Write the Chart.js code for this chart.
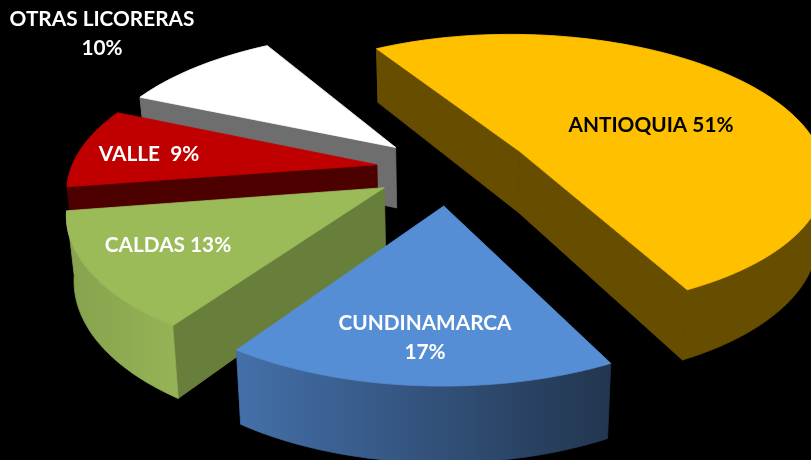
<!DOCTYPE html>
<html><head><meta charset="utf-8">
<style>html,body{margin:0;padding:0;background:#000;overflow:hidden}canvas{display:block}</style>
<script src="https://cdn.jsdelivr.net/npm/chart.js@4"></script>
</head><body><canvas id="c" width="811" height="460"></canvas>
<script>
const categories = ['ANTIOQUIA','CUNDINAMARCA','CALDAS','VALLE','OTRAS LICORERAS'];
const shares = [51,17,13,9,10];
const explode = [82,78,75,73,73];
const topColors = ['#FFC000','#558ED5','#9BBB59','#C00000','#FFFFFF'];
const radialWall = ['#664D00','#3A5F92','#687F3B','#4D0000','#6E6E6E'];
const rimWallFrom = ['#664D00','#4470AA','#86A24E','#4D0000','#6E6E6E'];
const rimWallTo = ['#664D00','#22364F','#95B355','#4D0000','#6E6E6E'];
const labelLines = [['ANTIOQUIA 51%'],['CUNDINAMARCA','17%'],['CALDAS 13%'],['VALLE  9%'],['OTRAS LICORERAS','10%']];
const labelColors = ['#000','#fff','#fff','#fff','#fff'];
const labelAnchors = [[651,125],[425,323],[168,245],[149,154],[102,19]];
const view = {ox:449, oy:169, tilt:0.457, focal:2000, radius:306, depth:62, narrow:0.98};

function project(x,y,z){
  const s = 1/(1-y/view.focal);
  let sx = view.ox + x*s, sy = view.oy + view.tilt*y*s;
  if(z){ sx = view.ox + (sx-view.ox)*view.narrow; sy += z*s; }
  return [sx,sy];
}
function poly(ctx,pts,fill){
  ctx.beginPath();
  pts.forEach((p,i)=> i?ctx.lineTo(p[0],p[1]):ctx.moveTo(p[0],p[1]));
  ctx.closePath(); ctx.fillStyle=fill; ctx.fill();
  ctx.strokeStyle=fill; ctx.lineWidth=0.8; ctx.lineJoin='round'; ctx.stroke();
}
function turn(p,q,r){ return (q[0]-p[0])*(r[1]-q[1])-(q[1]-p[1])*(r[0]-q[0]); }
const pie3d = {
  id:'pie3d',
  beforeDatasetDraw(chart,args){
    const ctx = chart.ctx, arcs = chart.getDatasetMeta(args.index).data;
    const order = arcs.map((a,i)=>i).sort((p,q)=>{
      const m=a=>(a.startAngle+a.endAngle)/2;
      return Math.sin(m(arcs[p]))-Math.sin(m(arcs[q]));
    });
    order.forEach(i=>{
      const a=arcs[i], mid=(a.startAngle+a.endAngle)/2, off=a.options.offset;
      const ax=Math.cos(mid)*off, ay=Math.sin(mid)*off, rim=[];
      const n=Math.max(8,Math.ceil((a.endAngle-a.startAngle)*90));
      for(let k=0;k<=n;k++){
        const t=a.startAngle+(a.endAngle-a.startAngle)*k/n;
        rim.push([ax+view.radius*Math.cos(t), ay+view.radius*Math.sin(t)]);
      }
      const top=rim.map(p=>project(p[0],p[1],0)), bot=rim.map(p=>project(p[0],p[1],view.depth));
      const at=project(ax,ay,0), ab=project(ax,ay,view.depth);
      if(turn(at,top[0],bot[0])<0) poly(ctx,[at,top[0],bot[0],ab],radialWall[i]);
      if(turn(at,top[n],bot[n])>0) poly(ctx,[at,top[n],bot[n],ab],radialWall[i]);
      const xs=top.map(p=>p[0]);
      const g=ctx.createLinearGradient(Math.min(...xs),0,Math.max(...xs),0);
      g.addColorStop(0,rimWallFrom[i]); g.addColorStop(1,rimWallTo[i]);
      poly(ctx,top.concat(bot.slice().reverse()),g);
      poly(ctx,[at].concat(top),topColors[i]);
    });
    return false;
  },
  afterDatasetsDraw(chart){
    const ctx=chart.ctx;
    ctx.save();
    ctx.font='bold 20.8px Lato, Carlito, sans-serif';
    ctx.textAlign='center'; ctx.textBaseline='middle';
    labelLines.forEach((lines,i)=>{
      ctx.fillStyle=labelColors[i];
      lines.forEach((t,j)=>ctx.fillText(t,labelAnchors[i][0],labelAnchors[i][1]+j*29));
    });
    ctx.restore();
  }
};
new Chart(document.getElementById('c'),{
  type:'pie',
  data:{labels:categories,datasets:[{data:shares,backgroundColor:topColors,offset:explode,borderWidth:0}]},
  options:{responsive:false,animation:false,rotation:-30.5,
    plugins:{legend:{display:false},tooltip:{enabled:false}}},
  plugins:[pie3d]
});
</script></body></html>
